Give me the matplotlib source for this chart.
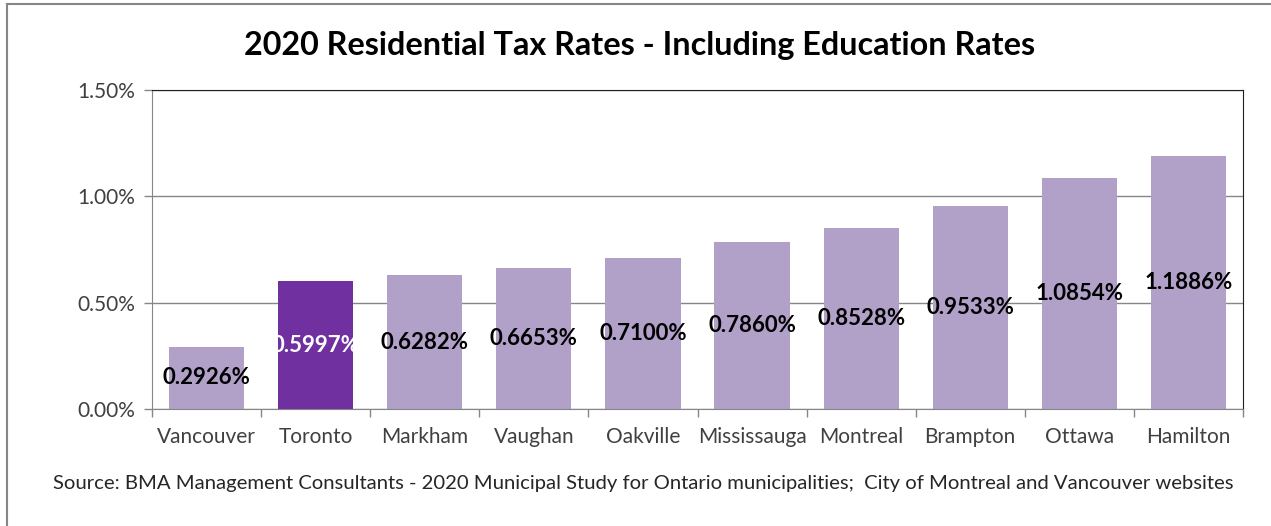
import numpy as np
import matplotlib
matplotlib.use("Agg")
from matplotlib import pyplot as plt
from matplotlib.ticker import FuncFormatter, FixedLocator
from matplotlib.lines import Line2D

cities = ["Vancouver", "Toronto", "Markham", "Vaughan", "Oakville",
          "Mississauga", "Montreal", "Brampton", "Ottawa", "Hamilton"]
rates = [0.2926, 0.5997, 0.6282, 0.6653, 0.7100,
         0.7860, 0.8528, 0.9533, 1.0854, 1.1886]
highlight = "Toronto"
yticks = [0.0, 0.5, 1.0, 1.5]

light = "#B1A0C7"
dark = "#7030A0"
grey = "#868686"

plt.rcParams["font.family"] = ["Lato", "DejaVu Sans"]

fig = plt.figure(figsize=(12.71, 5.26), dpi=100)
frame = fig.add_axes([152/1271, 1-409/526, (1243-152)/1271, (409-90)/526])

x = np.arange(len(cities))
colors = [dark if c == highlight else light for c in cities]
bars = frame.bar(x, rates, width=0.69, color=colors, zorder=2)

# value labels centred in each bar
for b, v, c in zip(bars, rates, cities):
    frame.text(b.get_x() + b.get_width()/2, v/2, "%.4f%%" % v,
               ha="center", va="center", fontsize=16, fontweight="bold",
               color="white" if c == highlight else "black", zorder=3)

frame.set_xlim(-0.5, len(cities) - 0.5)
frame.set_ylim(0, 1.5)
frame.yaxis.set_major_locator(FixedLocator(yticks))
frame.yaxis.set_major_formatter(FuncFormatter(lambda v, p: "%.2f%%" % v))
frame.grid(axis="y", color=grey, linewidth=1, zorder=0)

frame.set_xticks(x)
frame.set_xticklabels(cities)
frame.set_xticks(np.arange(len(cities) + 1) - 0.5, minor=True)
frame.tick_params(axis="x", which="major", length=0, pad=13, labelsize=15, labelcolor="#404040")
frame.tick_params(axis="x", which="minor", length=6, color=grey, width=1)
frame.tick_params(axis="y", length=6, color=grey, width=1, pad=6, labelsize=15, labelcolor="#404040")

for side in ["left", "bottom"]:
    frame.spines[side].set_color(grey)
for side in ["top", "right"]:
    frame.spines[side].set_color("#202020")

fig.text(640/1271, 1-45/526, "2020 Residential Tax Rates - Including Education Rates",
         ha="center", va="center", fontsize=23.3, fontweight="bold")
fig.text(643/1271, 1-484/526,
         "Source: BMA Management Consultants - 2020 Municipal Study for Ontario municipalities;  City of Montreal and Vancouver websites",
         ha="center", va="center", fontsize=14.6, color="#262626")

# chart border (top and left edges visible)
fig.add_artist(Line2D([7/1271, 7/1271], [0, 1-4/526], color=grey, linewidth=1.5))
fig.add_artist(Line2D([7/1271, 1], [1-4/526, 1-4/526], color=grey, linewidth=1.5))

fig.savefig("out.png", dpi=100)
